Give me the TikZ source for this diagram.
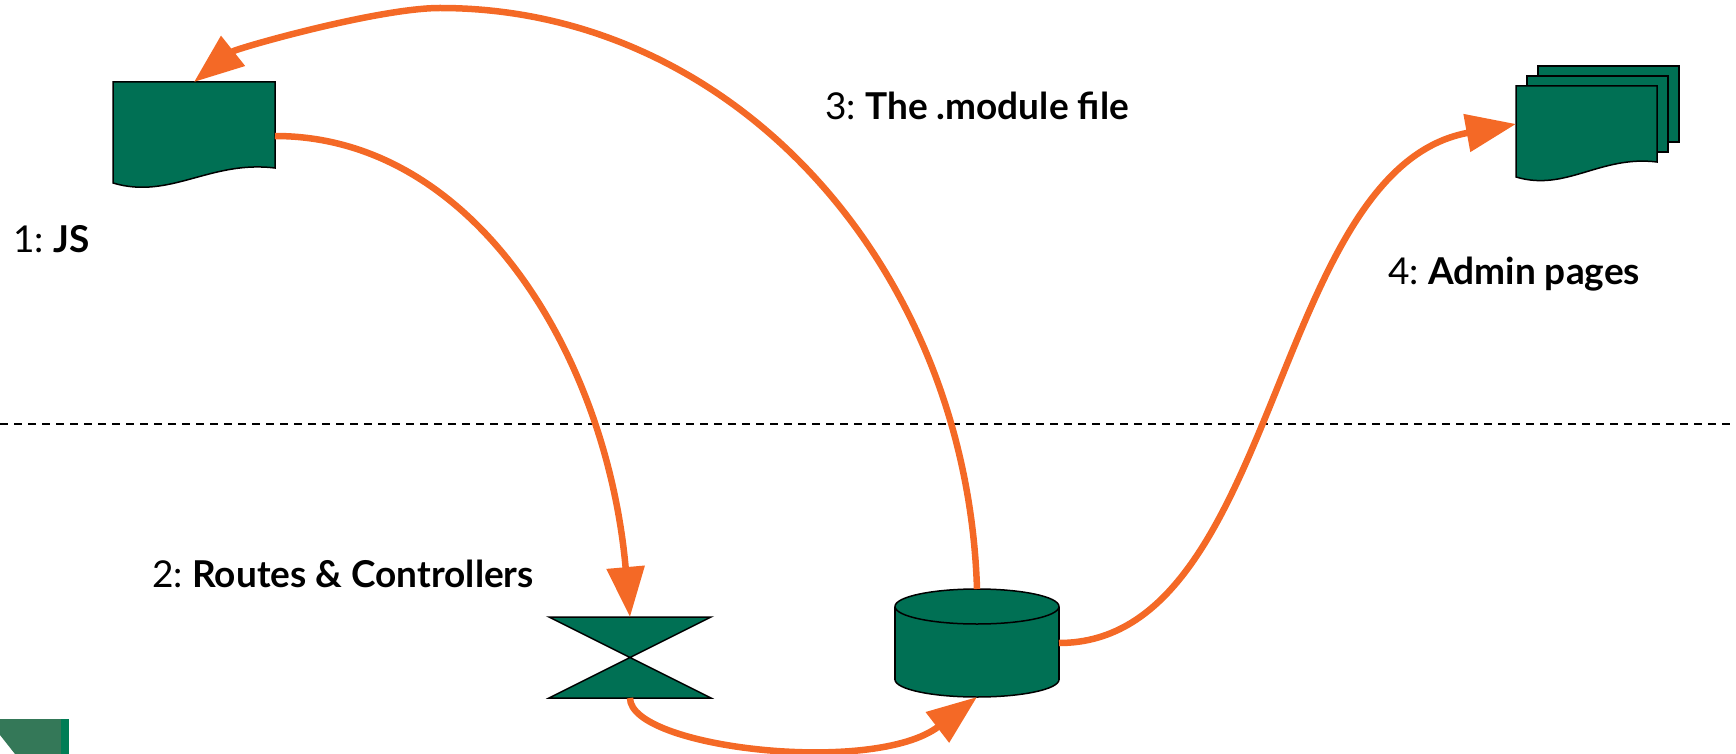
\documentclass[tikz,border=0pt]{standalone}
\usepackage{fontspec}
\setmainfont{Lato}
\usetikzlibrary{arrows.meta,calc}
\definecolor{flowc}{RGB}{244,105,38}
\definecolor{shpc}{RGB}{0,112,84}
\definecolor{logoA}{RGB}{52,120,88}
\definecolor{logoB}{RGB}{0,125,85}
\begin{document}
\begin{tikzpicture}[x=1pt,y=-1pt,
  anchorbox/.style={inner sep=0pt, outer sep=0pt, draw=none, rectangle},
  shp/.style={fill=shpc, draw=black, line width=1.5pt, line join=miter},
  flow/.style={draw=flowc, line width=6.5pt, -{Triangle[length=50pt,width=37pt]}},
  sepline/.style={draw=black, line width=1.5pt, dash pattern=on 8pt off 6pt},
  lbl/.style={anchor=base west, inner sep=0pt, font=\fontsize{37}{44}\selectfont\frenchspacing}]
\useasboundingbox (0,0) rectangle (1736,754);

% separator
\coordinate (sepL) at (0,424);
\coordinate (sepR) at (1736,424);
\draw[sepline] (sepL) -- (sepR);

% anchor boxes
\node[anchorbox, minimum width=162pt, minimum height=108pt] (js) at (194,136) {};
\node[anchorbox, minimum width=162pt, minimum height=81pt] (hg) at (630,657.5) {};
\node[anchorbox, minimum width=164pt, minimum height=108pt] (db) at (977,643) {};
\node[anchorbox, minimum width=141pt, minimum height=76pt] (stk) at (1586.5,124) {};

% JS document
\draw[shp] (js.north west) -- (js.north east) -- ($(js.north east)+(0,86)$)
  .. controls +(-65,-8) and +(57,17) .. ($(js.north west)+(0,101)$) -- cycle;

% stacked documents
\draw[shp] ([shift={(22,-20)}]stk.north west) rectangle ([shift={(22,-20)}]stk.south east);
\draw[shp] ([shift={(11,-10)}]stk.north west) rectangle ([shift={(11,-10)}]stk.south east);
\draw[shp] (stk.north west) -- (stk.north east) -- (stk.south east)
  .. controls +(-57,-7) and +(50,15) .. ($(stk.south west)+(0,15)$) -- cycle;

% hourglass (collate)
\draw[shp] (hg.north west) -- (hg.north east) -- (hg.south west) -- (hg.south east) -- cycle;

% cylinder
\coordinate (dbtop) at ($(db.north)+(0,17.5)$);
\coordinate (dbbot) at ($(db.south)+(0,-17.5)$);
\draw[shp] (dbbot) ellipse [x radius=82pt, y radius=17.5pt];
\fill[shpc] ($(dbtop)+(-82,0)$) rectangle ($(dbbot)+(82,0)$);
\draw[line width=1.5pt] ($(dbtop)+(-82,0)$) -- ($(dbbot)+(-82,0)$)
  ($(dbtop)+(82,0)$) -- ($(dbbot)+(82,0)$);
\draw[shp] (dbtop) ellipse [x radius=82pt, y radius=17.5pt];

% connectors
\coordinate (peak) at (440,8);
\draw[flow] (js.east) .. controls +(200,0) and +(-23,-260) .. (hg.north);
\draw[flow] (db.north) .. controls +(-10,-320) and +(296,0) .. (peak)
  .. controls +(-62,0) and +(42,-33.5) .. (js.north);
\draw[flow] (hg.south) .. controls +(0,50) and +(-103,79) .. (db.south);
\draw[flow] (db.east) .. controls +(220,0) and +(-246,45) .. (stk.west);

% labels
\node[lbl] (l1) at (13,252) {1: \textbf{JS}};
\node[lbl] (l2) at (152,587) {2: \textbf{Routes \& Controllers}};
\node[lbl] (l3) at (825,120) {3: \textbf{The .module file}};
\node[lbl] (l4) at (1388,284) {4: \textbf{Admin pages}};

% corner fragment
\fill[logoA] (0,719) -- (61,719) -- (61,754) -- (15,754) -- (0,735) -- cycle;
\fill[logoB] (61,719) rectangle (69,754);
\end{tikzpicture}
\end{document}
